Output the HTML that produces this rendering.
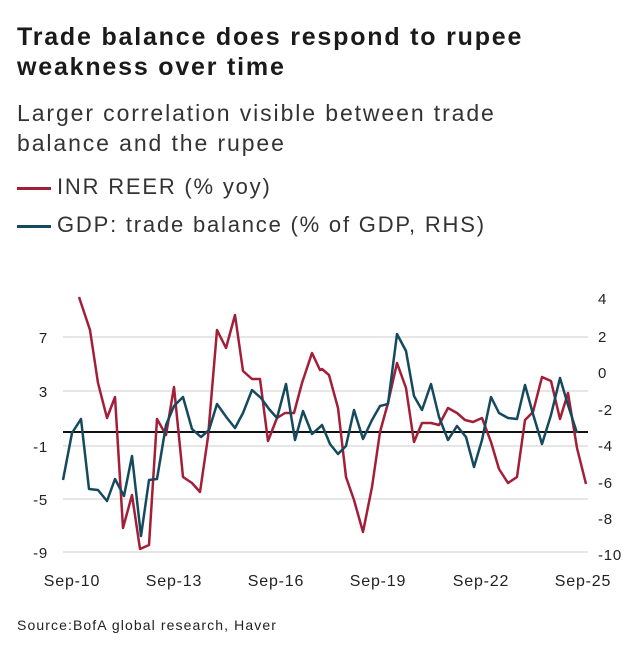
<!DOCTYPE html>
<html><head><meta charset="utf-8"><style>
body{margin:0;background:#fff;width:635px;height:650px;overflow:hidden;font-family:"Liberation Sans",sans-serif;color:#222}
.t{position:absolute;left:17px;font-weight:bold;font-size:25px;line-height:30px;top:22px;color:#1a1a1a;letter-spacing:1.8px;white-space:nowrap}
.s{position:absolute;left:17px;font-size:23px;line-height:30px;top:98px;color:#333;letter-spacing:1.9px;white-space:nowrap}
.l{position:absolute;left:17px;font-size:22px;color:#333;letter-spacing:1.8px;white-space:nowrap}
</style></head><body>
<div class="t">Trade balance does respond to rupee<br>weakness over time</div>
<div class="s">Larger correlation visible between trade<br>balance and the rupee</div>
<div class="l" style="top:174px"><span style="display:inline-block;width:34px;height:3px;background:#a31e37;vertical-align:middle;margin-right:6px"></span>INR REER (% yoy)</div>
<div class="l" style="top:212px"><span style="display:inline-block;width:34px;height:3px;background:#154a5e;vertical-align:middle;margin-right:6px"></span>GDP: trade balance (% of GDP, RHS)</div>
<svg style="position:absolute;left:0;top:0" width="635" height="650">
<g stroke="#ccc" stroke-width="1">
<line x1="63" x2="588" y1="337" y2="337"/><line x1="63" x2="588" y1="391" y2="391"/><line x1="63" x2="588" y1="446" y2="446"/><line x1="63" x2="588" y1="499" y2="499"/><line x1="63" x2="588" y1="552" y2="552"/>
</g>
<line x1="63" x2="588" y1="432" y2="432" stroke="#111" stroke-width="2"/>
<g font-size="15" fill="#222" font-family="Liberation Sans, sans-serif" letter-spacing="0.8">
<text x="48" y="343" text-anchor="end">7</text><text x="48" y="397" text-anchor="end">3</text><text x="48" y="452" text-anchor="end">-1</text><text x="48" y="505" text-anchor="end">-5</text><text x="48" y="558" text-anchor="end">-9</text>
<text x="598" y="304">4</text><text x="598" y="342">2</text><text x="598" y="378">0</text><text x="598" y="415">-2</text><text x="598" y="451">-4</text><text x="598" y="488">-6</text><text x="598" y="524">-8</text><text x="598" y="560">-10</text>
<text x="72" y="586" text-anchor="middle" font-size="16">Sep-10</text><text x="174" y="586" text-anchor="middle" font-size="16">Sep-13</text><text x="276" y="586" text-anchor="middle" font-size="16">Sep-16</text><text x="378" y="586" text-anchor="middle" font-size="16">Sep-19</text><text x="481" y="586" text-anchor="middle" font-size="16">Sep-22</text><text x="583" y="586" text-anchor="middle" font-size="16">Sep-25</text>
</g>
<polyline fill="none" stroke="#a31e37" stroke-width="2.5" stroke-linejoin="round" points="79,297 90,330 98,383 107,418 115,397 123,528 132,495 140,549 149,545 157,419 166,435 174,387 183,477 192,483 200,492 208,437 217,330 226,348 235,315 243,371 252,379 260,379 268,441 277,418 285,413 294,413 302,383 312,353 320,370 322,369 329,375 338,408 346,477 354,500 363,532 372,487 380,432 388,403 397,363 406,388 414,442 422,423 431,423 439,425 448,408 457,413 465,420 473,422 482,418 491,442 499,469 508,483 517,477 525,420 533,412 542,377 551,381 560,419 568,393 577,448 586,484"/>
<polyline fill="none" stroke="#154a5e" stroke-width="2.5" stroke-linejoin="round" points="63,480 72,433 81,419 89,489 98,490 107,501 115,479 124,496 132,456 141,536 149,480 157,479 166,425 174,406 183,397 192,429 201,437 209,430 217,404 227,418 235,428 243,413 252,390 261,398 269,409 277,418 286,384 295,440 303,411 312,434 320,427 322,425 330,444 338,454 346,446 354,410 363,439 372,420 380,406 388,404 397,334 406,351 414,396 422,410 431,384 439,417 448,440 457,426 466,437 474,467 482,440 491,397 499,413 508,418 517,419 525,385 533,414 542,444 551,415 560,378 568,405 577,433"/>
<text x="17" y="630" font-size="14" fill="#222" font-family="Liberation Sans, sans-serif" letter-spacing="1.1">Source:BofA global research, Haver</text>
</svg>
</body></html>
